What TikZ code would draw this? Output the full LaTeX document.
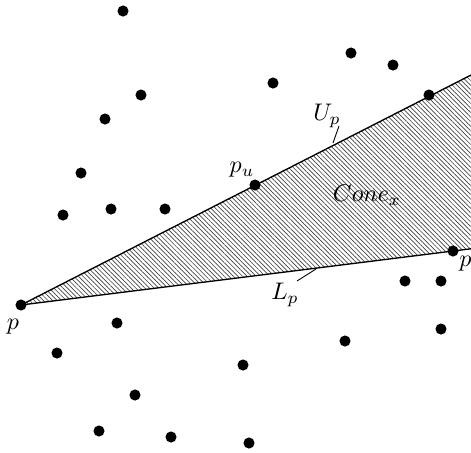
\documentclass[tikz,border=0pt]{standalone}
\usepackage{amsmath}
\usepackage{amssymb}
\usetikzlibrary{patterns.meta}

\tikzset{dot/.style={circle, fill=black, inner sep=0pt, minimum size=5pt},
         lbl/.style={scale=1.08}}

\begin{document}
\begin{tikzpicture}[x=0.45pt, y=-0.45pt]
            \useasboundingbox (0,0) rectangle (471,453);
            \clip (0,0) rectangle (471,453);

            \coordinate (P) at (21,305);
            \coordinate (Uend) at (490,65.3);
            \coordinate (Lend) at (490,246.4);

            \fill[pattern={Lines[angle=-45, distance=1.45pt, line width=0.3pt]}, pattern color=black!75] (P) -- (Uend) -- (Lend) -- cycle;
            \draw[line width=0.6pt] (P) -- (Uend);
            \draw[line width=0.6pt] (P) -- (Lend);

            \node[dot] (p) at (P) {};
            \node[dot] (pu) at (255,185) {};
            \node[dot] (pl) at (453,251) {};
            \node[dot] (q1) at (123,11) {};
            \node[dot] (q2) at (351,53) {};
            \node[dot] (q3) at (393,65) {};
            \node[dot] (q4) at (273,83) {};
            \node[dot] (q5) at (141,95) {};
            \node[dot] (q6) at (429,95) {};
            \node[dot] (q7) at (105,119) {};
            \node[dot] (q8) at (81,173) {};
            \node[dot] (q9) at (63,215) {};
            \node[dot] (q10) at (111,209) {};
            \node[dot] (q11) at (165,209) {};
            \node[dot] (q12) at (405,281) {};
            \node[dot] (q13) at (441,281) {};
            \node[dot] (q14) at (117,323) {};
            \node[dot] (q15) at (57,353) {};
            \node[dot] (q16) at (345,341) {};
            \node[dot] (q17) at (441,329) {};
            \node[dot] (q18) at (243,365) {};
            \node[dot] (q19) at (135,395) {};
            \node[dot] (q20) at (99,431) {};
            \node[dot] (q21) at (171,437) {};
            \node[dot] (q22) at (249,443) {};

            \node[lbl] (lp) at (13,327) {\(p\)};
            \node[lbl] (lpu) at (242,170) {\(p_u\)};
            \node[lbl] (lpl) at (469,264) {\(p_l\)};
            \node[lbl] (cone) at (367,195) {\(Cone_x\)};
            \node[lbl] (Up) at (327,116) {\(U_p\)};
            \node[lbl] (Lp) at (285,295) {\(L_p\)};

            \coordinate (uhit) at (333,143);
            \coordinate (lhit) at (316,269);
            \draw (339,126) -- (uhit);
            \draw (297,281) -- (lhit);
        \end{tikzpicture}
\end{document}
